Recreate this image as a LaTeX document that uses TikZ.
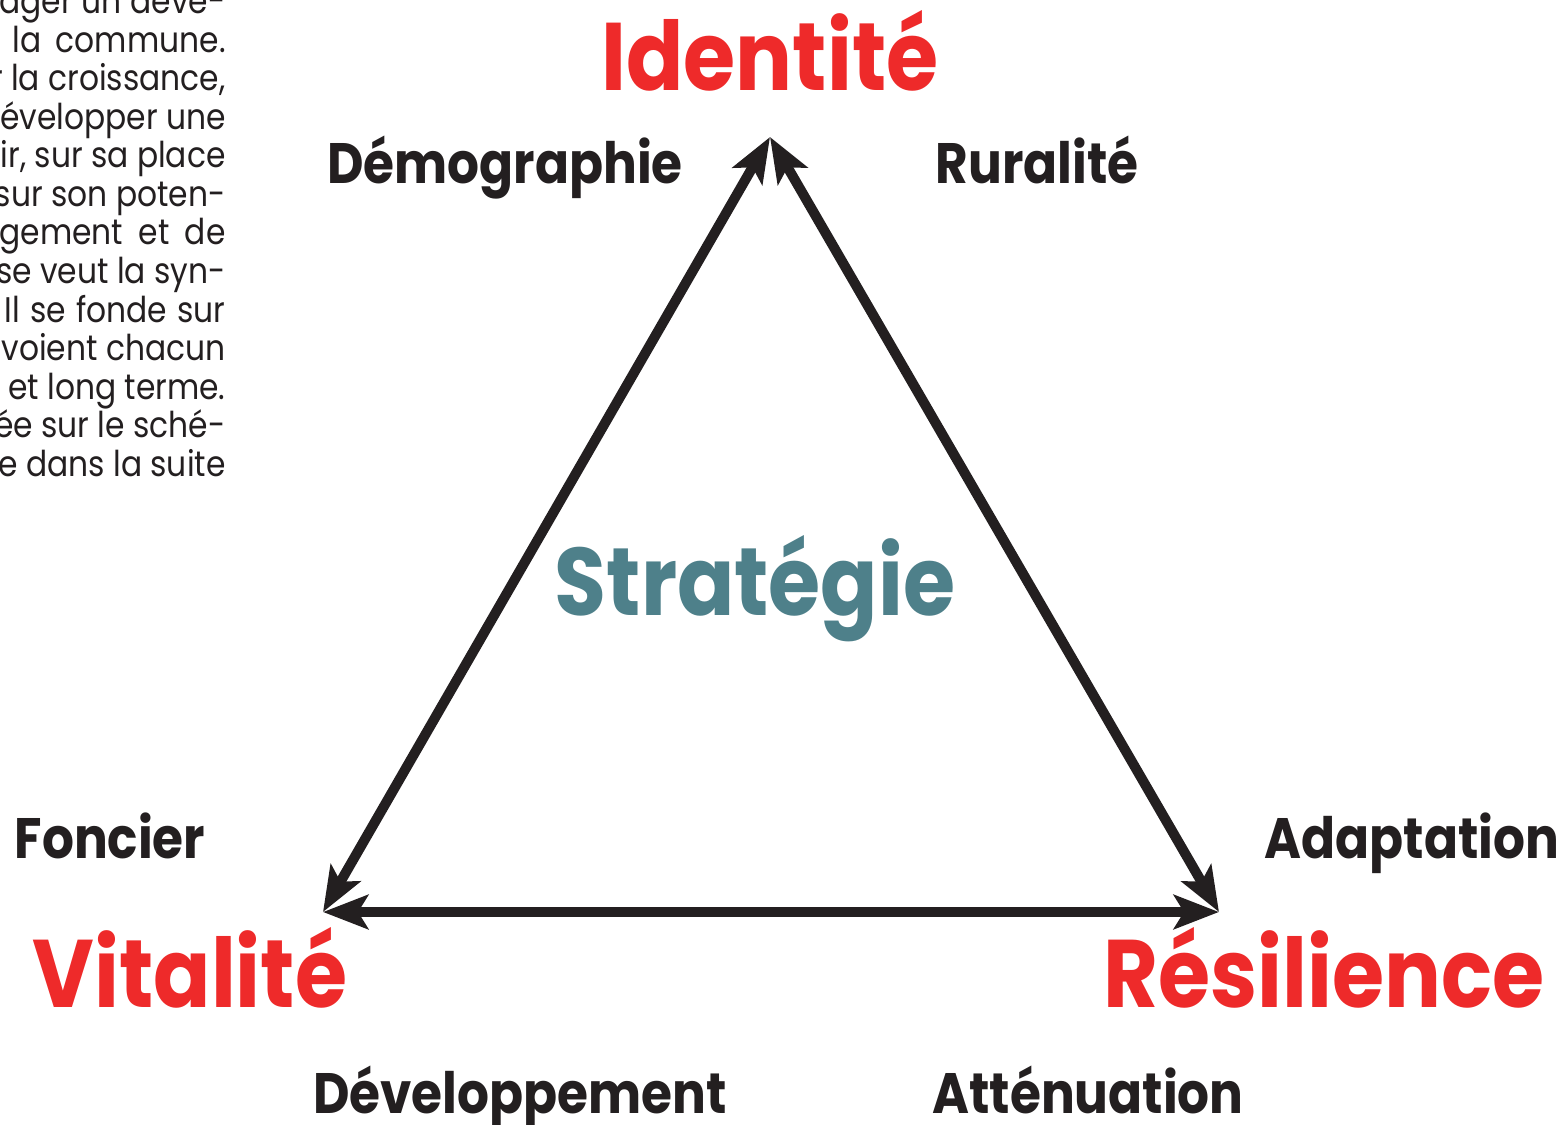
\documentclass[tikz,border=0pt]{standalone}
\usepackage{fontspec}
\setmainfont{Poppins}[FakeStretch=0.88]
\usetikzlibrary{arrows.meta}
\definecolor{rouge}{HTML}{EE2A2A}
\definecolor{bleu}{HTML}{4E808A}
\definecolor{noir}{HTML}{231F20}
\begin{document}
\begin{tikzpicture}[x=0.5pt, y=-0.5pt,
    pole/.style={font=\fontsize{48}{48}\selectfont\bfseries, text=rouge, inner sep=0pt, anchor=base},
    mot/.style={font=\fontsize{28.5}{28.5}\selectfont\bfseries, text=noir, inner sep=0pt, anchor=base},
    ligne/.style={font=\fontsize{17.8}{17.8}\selectfont, text=noir, inner sep=0pt, anchor=base east},
    fleche/.style={line width=5pt, draw=noir, >={Stealth[length=22.5pt, width=17pt, inset=5pt]}, <->}]
    \useasboundingbox (0, 0) rectangle (1562, 1124);
    \clip (0, 0) rectangle (1562, 1124);

    % texte de la page, coupe a gauche
    \node[ligne] (t0) at (226, 13) {\makebox[113pt][s]{ager un déve-}};
    \node[ligne] (t1) at (226, 52) {\makebox[106.5pt][s]{la commune.}};
    \node[ligne] (t2) at (226, 90) {r la croissance,};
    \node[ligne] (t3) at (226, 129) {évelopper une};
    \node[ligne] (t4) at (226, 167) {nir, sur sa place};
    \node[ligne] (t5) at (226, 206) {sur son poten-};
    \node[ligne] (t6) at (226, 244) {\makebox[113pt][s]{gement et de}};
    \node[ligne] (t7) at (226, 283) {se veut la syn-};
    \node[ligne] (t8) at (226, 322) {\makebox[110.5pt][s]{Il se fonde sur}};
    \node[ligne] (t9) at (226, 360) {voient chacun};
    \node[ligne] (t10) at (226, 399) {et long terme.};
    \node[ligne] (t11) at (226, 437) {ée sur le sché-};
    \node[ligne] (t12) at (226, 476) {ée dans la suite};

    % sommets du triangle
    \coordinate (0) at (770, 137);
    \coordinate (1) at (323, 912);
    \coordinate (2) at (1219, 912);

    \node[pole] (id) at (770, 90) {Identité};
    \node[pole] (vi) at (190, 1007) {Vitalité};
    \node[pole] (re) at (1324, 1007) {Résilience};
    \node[pole, text=bleu] (st) at (755, 615) {Stratégie};

    \node[mot] (de) at (505, 183) {Démographie};
    \node[mot] (ru) at (1037, 183) {Ruralité};
    \node[mot] (fo) at (110, 858) {Foncier};
    \node[mot] (ad) at (1412, 858) {Adaptation};
    \node[mot] (dv) at (520, 1113) {Développement};
    \node[mot] (at) at (1088, 1113) {Atténuation};

    \draw[fleche] (0) -- (1);
    \draw[fleche] (0) -- (2);
    \draw[fleche] (1) -- (2);
\end{tikzpicture}
\end{document}
